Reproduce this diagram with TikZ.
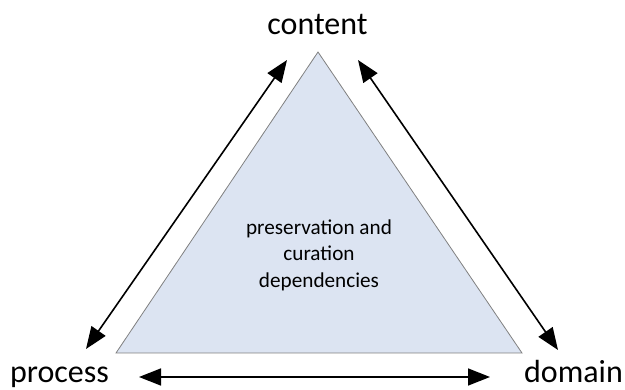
\documentclass[tikz,border=0pt]{standalone}
\usepackage{fontspec}
\setmainfont{Carlito}
\usetikzlibrary{arrows.meta}
\definecolor{trifill}{RGB}{220,228,242}
\definecolor{triline}{RGB}{128,128,128}
\tikzset{
  biarrow/.style={line width=1.6pt,{Triangle[length=22pt,width=17pt]}-{Triangle[length=22pt,width=17pt]}},
  vlabel/.style={font=\fontsize{32}{38}\selectfont,inner sep=0pt,anchor=base},
  inlabel/.style={font=\fontsize{21.2}{26.5}\selectfont,align=center,inner sep=0pt}
}
\begin{document}
\begin{tikzpicture}[x=1pt,y=-1pt]
\useasboundingbox (0,0) rectangle (625,390);
\coordinate (A) at (318,52);
\coordinate (B) at (116,353);
\coordinate (C) at (522,353);
\filldraw[fill=trifill,draw=triline,line width=0.8pt,line join=miter] (A) -- (B) -- (C) -- cycle;
\node[inlabel] (mid) at (319,255) {preservation and\\curation\\dependencies};
\node[vlabel] (content) at (317.5,35) {content};
\node[vlabel] (process) at (59.5,383) {process};
\node[vlabel] (domain) at (573.5,383) {domain};
\coordinate (l1) at (287,60);
\coordinate (l2) at (86,349);
\coordinate (r1) at (358,60);
\coordinate (r2) at (558,350);
\coordinate (b1) at (139,377);
\coordinate (b2) at (490,377);
\draw[biarrow] (l1) -- (l2);
\draw[biarrow] (r1) -- (r2);
\draw[biarrow] (b1) -- (b2);
\end{tikzpicture}
\end{document}
